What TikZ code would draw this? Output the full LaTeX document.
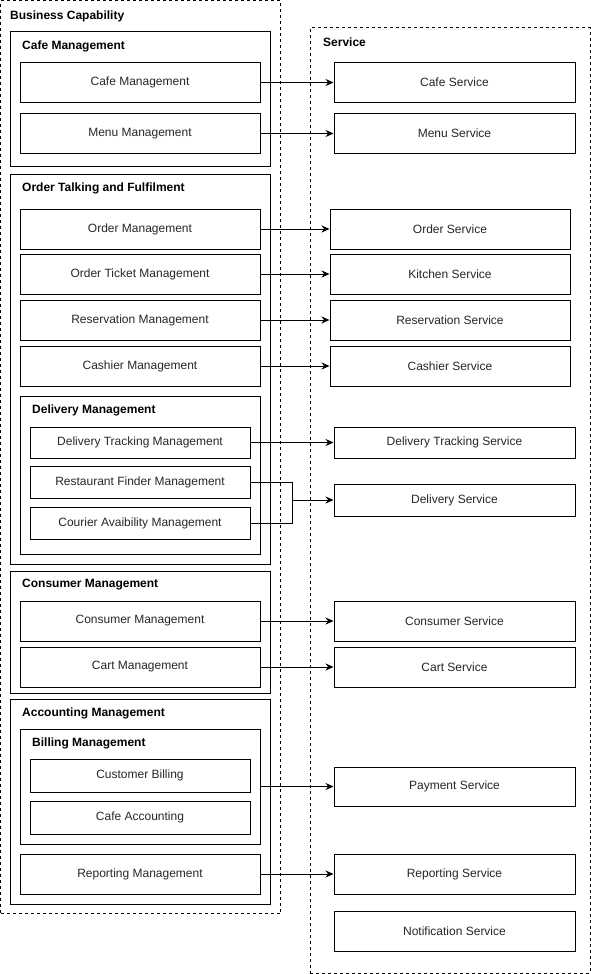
\documentclass[tikz,border=0pt]{standalone}
\usepackage{fontspec}
\setmainfont{Liberation Sans}
\usepackage{xcolor}
\usepackage{tikz}
\usetikzlibrary{shapes}
\usetikzlibrary{positioning}
\usetikzlibrary{arrows.meta}
\tikzset{
    capbox/.style = {rectangle, draw=black, line width=1pt, align=center, text=black!85, minimum width=240pt, minimum height=40pt, inner sep=0pt},
    subbox/.style = {rectangle, draw=black, line width=1pt, align=center, text=black!85, minimum width=220pt, minimum height=32pt, inner sep=0pt},
    svcbox/.style = {rectangle, draw=black, line width=1pt, align=center, text=black!85, minimum width=241pt, minimum height=40pt, inner sep=0pt},
    grpbox/.style = {rectangle, draw=black, line width=1pt, inner sep=0pt},
    areabox/.style = {rectangle, draw=black, line width=1pt, dash pattern=on 3pt off 3pt, inner sep=0pt},
    grptitle/.style = {anchor=west, font=\fontsize{12}{14}\selectfont\bfseries, inner sep=0pt},
}

\begin{document}
\begin{tikzpicture}[
	x=1pt,
	y=-1pt,
	font=\fontsize{12}{14}\selectfont
]
\tikzset{
    edgen/.style = {-,line width=1pt},
    edgea/.style = {-{Stealth[length=8pt,width=7pt]},line width=1pt},
}
\useasboundingbox (0,0) rectangle (591,974);
% dashed areas
\node[areabox, minimum width=280pt, minimum height=913pt] at (140.75,457.25) (biz) {};
\node[grptitle] at (10,16) (bizt) {Business Capability};
\node[areabox, minimum width=280pt, minimum height=945pt] at (450,500.5) (svc) {};
\node[grptitle] at (323,42) (svct) {Service};
%
\node[grpbox, minimum width=260pt, minimum height=134pt] at (140,99) (gcafe) {};
\node[grptitle] at (22,46) (gcafet) {Cafe Management};
\node[capbox] at (140,82.5) (cafemgmt) {Cafe Management};
\node[capbox] at (140,133.5) (menumgmt) {Menu Management};
%
\node[grpbox, minimum width=260pt, minimum height=390pt] at (140,369) (gorder) {};
\node[grptitle] at (22,188) (gordert) {Order Talking and Fulfilment};
\node[capbox] at (140,229) (ordermgmt) {Order Management};
\node[capbox] at (140,274) (ticketmgmt) {Order Ticket Management};
\node[capbox] at (140,320) (reservmgmt) {Reservation Management};
\node[capbox] at (140,366) (cashiermgmt) {Cashier Management};
\node[grpbox, minimum width=240pt, minimum height=158pt] at (140,475) (gdeliv) {};
\node[grptitle] at (32,410) (gdelivt) {Delivery Management};
\node[subbox, minimum height=31pt] at (140,442.5) (trackmgmt) {Delivery Tracking Management};
\node[subbox] at (140,482) (findermgmt) {Restaurant Finder Management};
\node[subbox] at (140,523) (couriermgmt) {Courier Avaibility Management};
%
\node[grpbox, minimum width=260pt, minimum height=122pt] at (140,632) (gcons) {};
\node[grptitle] at (22,585) (gconst) {Consumer Management};
\node[capbox] at (140,621) (consmgmt) {Consumer Management};
\node[capbox] at (140,667) (cartmgmt) {Cart Management};
%
\node[grpbox, minimum width=260pt, minimum height=205pt] at (140,801.5) (gacct) {};
\node[grptitle] at (22,713) (gacctt) {Accounting Management};
\node[grpbox, minimum width=240pt, minimum height=115pt] at (140,786.5) (gbill) {};
\node[grptitle] at (32,743) (gbillt) {Billing Management};
\node[subbox, minimum height=33pt] at (140,775.5) (custbill) {Customer Billing};
\node[subbox, minimum height=33pt] at (140,817.5) (cafeacct) {Cafe Accounting};
\node[capbox] at (140,874) (reportmgmt) {Reporting Management};
%
\node[svcbox] at (454.5,82.5) (cafesvc) {Cafe Service};
\node[svcbox] at (454.5,133.5) (menusvc) {Menu Service};
\node[capbox] at (450,229) (ordersvc) {Order Service};
\node[capbox] at (450,274) (kitchensvc) {Kitchen Service};
\node[capbox] at (450,320) (reservsvc) {Reservation Service};
\node[capbox] at (450,366) (cashiersvc) {Cashier Service};
\node[svcbox, minimum height=31pt] at (454.5,442.5) (tracksvc) {Delivery Tracking Service};
\node[svcbox, minimum height=32pt] at (454.5,500) (delivsvc) {Delivery Service};
\node[svcbox] at (454.5,621) (conssvc) {Consumer Service};
\node[svcbox] at (454.5,667) (cartsvc) {Cart Service};
\node[svcbox, minimum height=39pt] at (454.5,786.5) (paysvc) {Payment Service};
\node[svcbox] at (454.5,874) (reportsvc) {Reporting Service};
\node[svcbox] at (454.5,931) (notifysvc) {Notification Service};
\coordinate (merge) at (292,500);
%
\draw[edgea] (cafemgmt) -- (cafesvc);
\draw[edgea] (menumgmt) -- (menusvc);
\draw[edgea] (ordermgmt) -- (ordersvc);
\draw[edgea] (ticketmgmt) -- (kitchensvc);
\draw[edgea] (reservmgmt) -- (reservsvc);
\draw[edgea] (cashiermgmt) -- (cashiersvc);
\draw[edgea] (trackmgmt) -- (tracksvc);
%
\draw[edgen] (findermgmt.east) -| (merge);
\draw[edgen] (couriermgmt.east) -| (merge);
\draw[edgea] (merge) -- (delivsvc.west);
%
\draw[edgea] (consmgmt) -- (conssvc);
\draw[edgea] (cartmgmt) -- (cartsvc);
\draw[edgea] (gbill) -- (paysvc);
\draw[edgea] (reportmgmt) -- (reportsvc);
\end{tikzpicture}
\end{document}
